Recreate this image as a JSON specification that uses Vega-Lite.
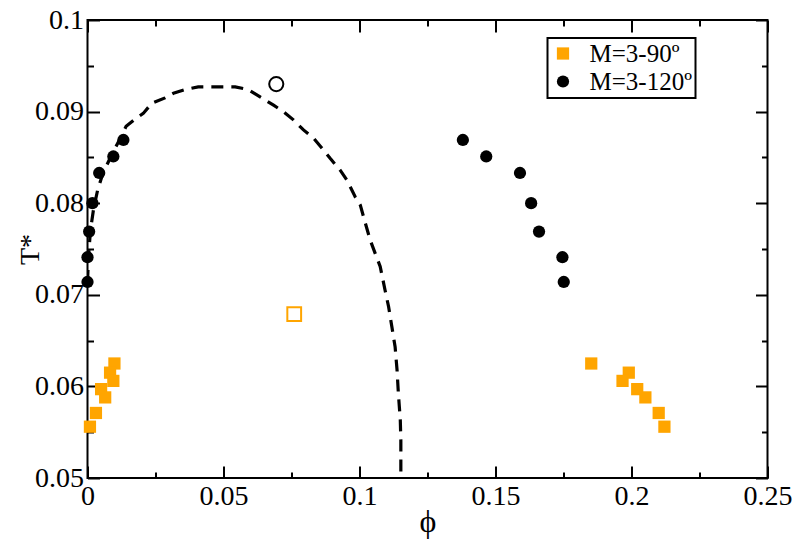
{
  "$schema": "https://vega.github.io/schema/vega-lite/v6.json",
  "width": 680,
  "height": 458,
  "autosize": {"type": "none"},
  "padding": {"left": 87.5, "top": 20, "right": 32.5, "bottom": 70},
  "background": "white",
  "config": {
    "view": {"stroke": "black", "strokeWidth": 2},
    "font": "Liberation Serif",
    "legend": {"strokeColor": "black", "strokeWidth": 2},
    "axis": {
      "domain": false,
      "grid": false,
      "labelFlush": false,
      "tickColor": "black",
      "tickWidth": 2,
      "labelFont": "Liberation Serif",
      "labelFontSize": 28,
      "labelColor": "black",
      "titleFont": "Liberation Serif",
      "titleColor": "black",
      "titleFontWeight": "normal"
    }
  },
  "datasets": {
    "curve": [
      {"i": 1, "x": 0.0, "y": 0.0714},
      {"i": 2, "x": 0.0004, "y": 0.0743},
      {"i": 3, "x": 0.0011, "y": 0.0771},
      {"i": 4, "x": 0.0022, "y": 0.0793},
      {"i": 5, "x": 0.0037, "y": 0.0814},
      {"i": 6, "x": 0.0057, "y": 0.0833},
      {"i": 7, "x": 0.0083, "y": 0.0849},
      {"i": 8, "x": 0.0112, "y": 0.0866},
      {"i": 9, "x": 0.0142, "y": 0.0884},
      {"i": 10, "x": 0.0171, "y": 0.0891},
      {"i": 11, "x": 0.0205, "y": 0.0898},
      {"i": 12, "x": 0.0236, "y": 0.0909},
      {"i": 13, "x": 0.0285, "y": 0.0915},
      {"i": 14, "x": 0.0316, "y": 0.092},
      {"i": 15, "x": 0.0359, "y": 0.0924},
      {"i": 16, "x": 0.0407, "y": 0.0927},
      {"i": 17, "x": 0.0457, "y": 0.0927},
      {"i": 18, "x": 0.0543, "y": 0.0927},
      {"i": 19, "x": 0.0591, "y": 0.0924},
      {"i": 20, "x": 0.0641, "y": 0.0915},
      {"i": 21, "x": 0.0684, "y": 0.0907},
      {"i": 22, "x": 0.072, "y": 0.09},
      {"i": 23, "x": 0.0757, "y": 0.0891},
      {"i": 24, "x": 0.0794, "y": 0.088},
      {"i": 25, "x": 0.0831, "y": 0.0871},
      {"i": 26, "x": 0.0868, "y": 0.0858},
      {"i": 27, "x": 0.0892, "y": 0.0849},
      {"i": 28, "x": 0.0929, "y": 0.0836},
      {"i": 29, "x": 0.0954, "y": 0.0825},
      {"i": 30, "x": 0.0984, "y": 0.0807},
      {"i": 31, "x": 0.1003, "y": 0.0798},
      {"i": 32, "x": 0.1015, "y": 0.0785},
      {"i": 33, "x": 0.1039, "y": 0.076},
      {"i": 34, "x": 0.1058, "y": 0.0745},
      {"i": 35, "x": 0.1076, "y": 0.0731},
      {"i": 36, "x": 0.1094, "y": 0.0705},
      {"i": 37, "x": 0.1107, "y": 0.0687},
      {"i": 38, "x": 0.1119, "y": 0.0665},
      {"i": 39, "x": 0.1131, "y": 0.0643},
      {"i": 40, "x": 0.1138, "y": 0.0618},
      {"i": 41, "x": 0.1143, "y": 0.0592},
      {"i": 42, "x": 0.115, "y": 0.0563},
      {"i": 43, "x": 0.1152, "y": 0.0541},
      {"i": 44, "x": 0.1152, "y": 0.05}
    ],
    "pts": [
      {"s": "M=3-90º", "x": 0.0099, "y": 0.0625},
      {"s": "M=3-90º", "x": 0.0083, "y": 0.0615},
      {"s": "M=3-90º", "x": 0.0095, "y": 0.0606},
      {"s": "M=3-90º", "x": 0.005, "y": 0.0597},
      {"s": "M=3-90º", "x": 0.0065, "y": 0.0588},
      {"s": "M=3-90º", "x": 0.0031, "y": 0.0571},
      {"s": "M=3-90º", "x": 0.0009, "y": 0.0556},
      {"s": "M=3-90º", "x": 0.1852, "y": 0.0625},
      {"s": "M=3-90º", "x": 0.199, "y": 0.0615},
      {"s": "M=3-90º", "x": 0.1967, "y": 0.0606},
      {"s": "M=3-90º", "x": 0.2021, "y": 0.0597},
      {"s": "M=3-90º", "x": 0.2051, "y": 0.0588},
      {"s": "M=3-90º", "x": 0.21, "y": 0.0571},
      {"s": "M=3-90º", "x": 0.2121, "y": 0.0556},
      {"s": "M=3-120º", "x": 0.0, "y": 0.0714},
      {"s": "M=3-120º", "x": 0.0, "y": 0.0741},
      {"s": "M=3-120º", "x": 0.0006, "y": 0.0769},
      {"s": "M=3-120º", "x": 0.0018, "y": 0.08},
      {"s": "M=3-120º", "x": 0.0043, "y": 0.0833},
      {"s": "M=3-120º", "x": 0.0095, "y": 0.0851},
      {"s": "M=3-120º", "x": 0.0132, "y": 0.0869},
      {"s": "M=3-120º", "x": 0.138, "y": 0.0869},
      {"s": "M=3-120º", "x": 0.1466, "y": 0.0851},
      {"s": "M=3-120º", "x": 0.159, "y": 0.0833},
      {"s": "M=3-120º", "x": 0.1631, "y": 0.08},
      {"s": "M=3-120º", "x": 0.166, "y": 0.0769},
      {"s": "M=3-120º", "x": 0.1746, "y": 0.0741},
      {"s": "M=3-120º", "x": 0.1751, "y": 0.0714}
    ],
    "opencircle": [{"x": 0.0694, "y": 0.093}],
    "opensquare": [{"x": 0.076, "y": 0.0679}]
  },
  "layer": [
    {
      "data": {"name": "curve"},
      "mark": {"type": "line", "color": "black", "strokeWidth": 3.2, "strokeDash": [12, 8], "clip": true},
      "encoding": {
        "x": {"field": "x", "type": "quantitative", "scale": {"domain": [0, 0.25], "nice": false, "zero": false},
          "axis": {"orient": "bottom", "values": [0, 0.05, 0.1, 0.15, 0.2, 0.25], "format": "~g", "tickSize": -12, "labelPadding": 16, "title": "ϕ", "titleFontSize": 32, "titlePadding": -4}},
        "y": {"field": "y", "type": "quantitative", "scale": {"domain": [0.05, 0.1], "nice": false, "zero": false},
          "axis": {"orient": "left", "values": [0.05, 0.06, 0.07, 0.08, 0.09, 0.1], "format": "~g", "tickSize": -12, "labelPadding": 16, "title": "T*", "titleFontSize": 28, "titleX": -57, "titleBaseline": "middle"}},
        "order": {"field": "i", "type": "quantitative"}
      }
    },
    {
      "data": {"name": "pts"},
      "mark": {"type": "point", "filled": true, "opacity": 1, "size": 150},
      "encoding": {
        "x": {"field": "x", "type": "quantitative", "scale": {"domain": [0, 0.25], "nice": false, "zero": false},
          "axis": {"orient": "bottom", "values": [0.025, 0.075, 0.125, 0.175, 0.225], "tickSize": -6, "labels": false, "title": null}},
        "y": {"field": "y", "type": "quantitative", "scale": {"domain": [0.05, 0.1], "nice": false, "zero": false},
          "axis": {"orient": "left", "values": [0.055, 0.065, 0.075, 0.085, 0.095], "tickSize": -6, "labels": false, "title": null}},
        "color": {"field": "s", "type": "nominal", "scale": {"domain": ["M=3-90º", "M=3-120º"], "range": ["#FFA500", "#000000"]},
          "legend": {"title": null, "orient": "none", "legendX": 460, "legendY": 18, "padding": 3, "labelFont": "Liberation Serif", "labelFontSize": 25, "labelColor": "black", "symbolSize": 150, "labelOffset": 14, "rowPadding": 2, "symbolOpacity": 1}},
        "shape": {"field": "s", "type": "nominal", "scale": {"domain": ["M=3-90º", "M=3-120º"], "range": ["square", "circle"]}}
      }
    },
    {
      "data": {"name": "opencircle"},
      "mark": {"type": "point", "shape": "circle", "filled": false, "stroke": "black", "strokeWidth": 2, "size": 200, "opacity": 1},
      "encoding": {
        "x": {"field": "x", "type": "quantitative", "scale": {"domain": [0, 0.25], "nice": false, "zero": false},
          "axis": {"orient": "top", "values": [0, 0.05, 0.1, 0.15, 0.2, 0.25], "tickSize": -12, "labels": false, "title": null}},
        "y": {"field": "y", "type": "quantitative", "scale": {"domain": [0.05, 0.1], "nice": false, "zero": false},
          "axis": {"orient": "right", "values": [0.05, 0.06, 0.07, 0.08, 0.09, 0.1], "tickSize": -12, "labels": false, "title": null}}
      }
    },
    {
      "data": {"name": "opensquare"},
      "mark": {"type": "point", "shape": "square", "filled": false, "stroke": "#FFA500", "strokeWidth": 2, "size": 190, "opacity": 1},
      "encoding": {
        "x": {"field": "x", "type": "quantitative", "scale": {"domain": [0, 0.25], "nice": false, "zero": false},
          "axis": {"orient": "top", "values": [0.025, 0.075, 0.125, 0.175, 0.225], "tickSize": -6, "labels": false, "title": null}},
        "y": {"field": "y", "type": "quantitative", "scale": {"domain": [0.05, 0.1], "nice": false, "zero": false},
          "axis": {"orient": "right", "values": [0.055, 0.065, 0.075, 0.085, 0.095], "tickSize": -6, "labels": false, "title": null}}
      }
    }
  ],
  "resolve": {"axis": {"x": "independent", "y": "independent"}}
}
